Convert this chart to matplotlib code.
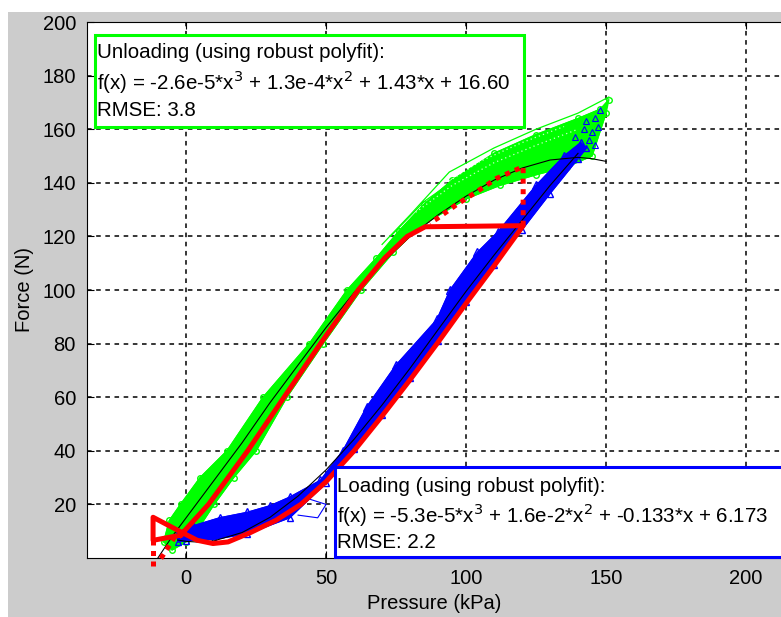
import numpy as np
import matplotlib.pyplot as plt
from matplotlib.patches import Rectangle

plt.rcParams['font.family'] = ['Liberation Sans', 'DejaVu Sans']

# unloading data band (green)
green_upper_x = [-8, -6, -2, 5, 14.6, 27.5, 44, 57.5, 68, 76, 85, 95, 110, 125, 140, 148, 151]
green_upper_y = [6, 14, 20, 30, 40, 60, 80, 100, 112, 122, 132, 141, 151, 158, 164, 167.5, 171]
green_lower_x = [-5, 0, 5, 10, 17, 25, 36, 49, 62.5, 74, 84, 100, 112, 125, 136, 145, 150]
green_lower_y = [3, 6, 12, 20, 30, 40, 60, 80, 100, 114, 124, 134, 139, 143, 146, 150, 166]
# outer unloading cycles (thin green lines)
green_cycle1_x = [70, 80, 94, 110, 125, 140, 151]
green_cycle1_y = [117, 128, 144, 153, 160, 166, 172]
green_cycle2_x = [73, 85, 100, 115, 130, 145]
green_cycle2_y = [120, 133, 144, 152, 159, 165]
# light speckle rows inside the upper part of the green band
speck1_x = [82, 95, 110, 125, 140]
speck1_y = [129, 139, 147.5, 154, 160]
speck2_x = [90, 105, 120, 135]
speck2_y = [138, 148, 155, 161]

# loading data band (blue)
blue_upper_x = [-3, 2.5, 12, 21.7, 30, 37, 48, 56, 64.6, 75, 89.6, 94.3, 104, 111.4, 125, 135, 141]
blue_upper_y = [9.5, 12, 15, 17, 19.5, 22.7, 29, 40, 56.5, 72, 89, 100, 114, 121.7, 139, 150, 155]
blue_lower_x = [-3, 0, 10, 21.7, 37, 50, 60, 70, 80, 90, 100, 110, 120, 130, 140, 143]
blue_lower_y = [6, 6.5, 7, 9, 15, 28, 40.5, 53.5, 67, 81, 95.5, 109.5, 122.5, 136, 149, 153]
blue_loop_x = [38, 44, 50, 47, 40]
blue_loop_y = [17, 22, 20, 15, 16]
blue_tip_x = [139, 141, 142, 143, 144, 145, 146, 147, 148, 146]
blue_tip_y = [157, 153, 160, 163, 156, 159, 164, 161, 167, 154]

# fitted polynomials (black)
unload_fit_x = [-12, -5, 0, 10, 20, 30, 40, 50, 60, 70, 80, 90, 100, 110, 120, 130, 140, 145, 150]
unload_fit_y = [-3, 8, 15, 29, 43, 58, 72, 86, 99, 110, 120, 128, 135, 141, 145.5, 148.5, 149.5, 149, 148]
load_fit_x = [-3, 0, 5, 10, 20, 30, 40, 50, 60, 70, 80, 90, 100, 110, 120, 130, 140]
load_fit_y = [6.7, 6.2, 5.9, 6.4, 9.5, 15.2, 23.1, 32.9, 44.3, 57.1, 70.8, 85.2, 99.5, 113, 126, 139, 151]

# hysteresis model (red)
model_x = [-2, -11.8, -11.8, -2, 4, 9.6, 15, 23, 32, 41, 50, 60, 70, 80, 90, 100, 110, 120.4,
           85.4, 79, 71, 61.5, 48, 35, 22, 15, 8, -2]
model_y = [8.5, 6.6, 15.2, 9.8, 6.6, 5.4, 6, 9.5, 14, 20, 28.5, 40, 53, 66.5, 80.5, 95, 109, 124,
           123.6, 120, 112, 100, 80, 60, 40, 30, 20, 8.5]
dot_up_x = [120.4, 120.4, 111, 104, 96.8, 89.6, 87]
dot_up_y = [124, 146, 141.7, 136.8, 132, 126.6, 125]
dot_v_x = [-11.8, -11.8]
dot_v_y = [6.6, -3.5]
dot_d_x = [-4, -9.5]
dot_d_y = [8, -1]

xticks = [0, 50, 100, 150, 200]
yticks = [20, 40, 60, 80, 100, 120, 140, 160, 180, 200]

W, H = 781, 617
fig = plt.figure(figsize=(W / 100, H / 100), dpi=100, facecolor='white')
fig.patches.append(Rectangle((8 / W, 0), 1 - 8 / W, 1 - 12 / H, transform=fig.transFigure,
                             facecolor='#cccccc', edgecolor='none', zorder=-10))

ax = fig.add_axes([87 / W, 1 - 558 / H, 1 - 87 / W, (558 - 22) / H])
ax.set_xlim(-35.4, 212.5)
ax.set_ylim(0, 200)
ax.set_xticks(xticks)
ax.set_yticks(yticks)
ax.tick_params(direction='in', top=True, right=False, length=5, labelsize=14.5, pad=8)
ax.spines['right'].set_visible(False)
ax.grid(True, color='black', linestyle=(0, (3, 3)), linewidth=1.1)
ax.set_axisbelow(True)

G, B, R = '#00ff00', '#0000ff', '#ff0000'

ax.fill(green_upper_x + green_lower_x[::-1], green_upper_y + green_lower_y[::-1],
        color=G, lw=1, zorder=2)
for xs, ys in [(green_upper_x, green_upper_y), (green_lower_x, green_lower_y)]:
    ax.plot(xs, ys, color=G, marker='o', mfc='none', ms=4, lw=0.8, zorder=2)
for xs, ys in [(green_cycle1_x, green_cycle1_y), (green_cycle2_x, green_cycle2_y)]:
    ax.plot(xs, ys, color=G, lw=0.9, zorder=2)
for xs, ys in [(speck1_x, speck1_y), (speck2_x, speck2_y)]:
    ax.plot(xs, ys, color='white', lw=0.9, linestyle=(0, (1, 2.5)), alpha=0.8, zorder=2)

ax.fill(blue_upper_x + blue_lower_x[::-1], blue_upper_y + blue_lower_y[::-1],
        color=B, lw=1, zorder=3)
ax.plot(blue_upper_x, blue_upper_y, color=B, marker='^', mfc='none', ms=6, lw=0.8, zorder=3)
ax.plot(blue_lower_x, blue_lower_y, color=B, marker='^', mfc='none', ms=4, lw=0.8, zorder=3)
ax.plot(blue_loop_x, blue_loop_y, color=B, lw=0.8, zorder=3)
ax.plot(blue_tip_x, blue_tip_y, linestyle='none', color=B, marker='^', mfc='none',
        ms=4, mew=0.8, zorder=3)

ax.plot(unload_fit_x, unload_fit_y, color='black', lw=0.8, zorder=4)
ax.plot(load_fit_x, load_fit_y, color='black', lw=0.8, zorder=4)

ax.plot(model_x, model_y, color=R, lw=3.6, zorder=5, solid_joinstyle='round')
for xs, ys in [(dot_up_x, dot_up_y), (dot_v_x, dot_v_y), (dot_d_x, dot_d_y)]:
    ax.plot(xs, ys, color=R, lw=3.6, linestyle=(0, (1, 1.1)), zorder=5, clip_on=False)

ax.set_xlabel('Pressure (kPa)', fontsize=14.5, labelpad=4)
ax.set_ylabel('Force (N)', fontsize=14.5, labelpad=6)


def px_box(x0, y0, x1, y1, color, lines, ys):
    fig.patches.append(Rectangle((x0 / W, 1 - y1 / H), (x1 - x0) / W, (y1 - y0) / H,
                                 transform=fig.transFigure, facecolor='white',
                                 edgecolor=color, lw=2.2, zorder=20))
    for txt, yc in zip(lines, ys):
        fig.text((x0 + 2) / W, 1 - yc / H, txt, fontsize=14.8, va='center', ha='left', zorder=21)


px_box(95, 35, 524, 127, G,
       ['Unloading (using robust polyfit):',
        r'f(x) = -2.6e-5*x$^3$ + 1.3e-4*x$^2$ + 1.43*x + 16.60',
        'RMSE: 3.8'], [52, 82, 110])
px_box(335, 467, 790, 557, B,
       ['Loading (using robust polyfit):',
        r'f(x) = -5.3e-5*x$^3$ + 1.6e-2*x$^2$ + -0.133*x + 6.173',
        'RMSE: 2.2'], [487, 515, 542])

fig.savefig('out.png', dpi=100, facecolor=fig.get_facecolor())
